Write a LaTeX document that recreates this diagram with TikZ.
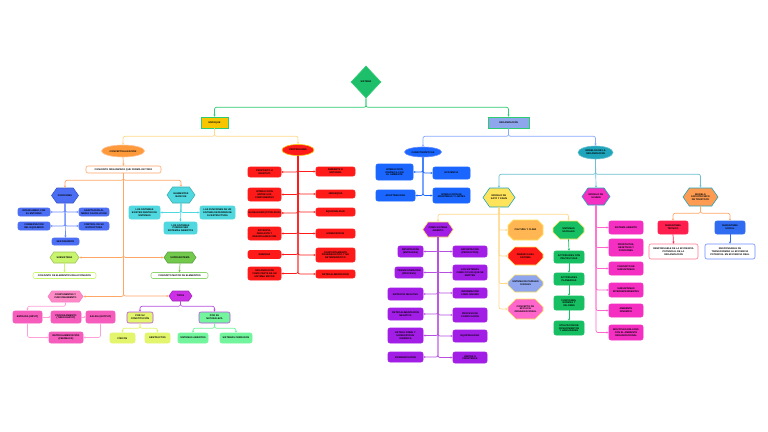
\documentclass[tikz,border=0pt]{standalone}
\usepackage{fontspec}
\setmainfont{Liberation Sans}
\usetikzlibrary{arrows.meta, shapes.geometric, shapes.symbols, shapes.misc}
\definecolor{sisgreen}{HTML}{1DBF6B}
\definecolor{lnkgreen}{HTML}{2ECC71}
\definecolor{enfyel}{HTML}{F7C600}
\definecolor{orglav}{HTML}{8EA6EC}
\definecolor{lnkyel}{HTML}{FFD98A}
\definecolor{lnklav}{HTML}{8AA8FF}
\definecolor{conor}{HTML}{FF9A3C}
\definecolor{lnkor}{HTML}{FFA766}
\definecolor{funblue}{HTML}{4C6EF5}
\definecolor{lnkblue}{HTML}{6A8CFF}
\definecolor{elcyan}{HTML}{4FD8DF}
\definecolor{subgreen}{HTML}{C9F56E}
\definecolor{supgreen}{HTML}{72C94C}
\definecolor{elpink}{HTML}{FF8AC6}
\definecolor{inpink}{HTML}{F55CBC}
\definecolor{lnkpink}{HTML}{FFA0D8}
\definecolor{tippur}{HTML}{CC2FE6}
\definecolor{lnkpur}{HTML}{B84FE0}
\definecolor{limeyel}{HTML}{E2F56C}
\definecolor{mint}{HTML}{72F59C}
\definecolor{propred}{HTML}{FF1A1A}
\definecolor{carblue}{HTML}{1A66FF}
\definecolor{modteal}{HTML}{1EA4BB}
\definecolor{lnkteal}{HTML}{6CC0D0}
\definecolor{katyel}{HTML}{FFE35A}
\definecolor{kpur}{HTML}{A21EE6}
\definecolor{octor}{HTML}{FFB653}
\definecolor{octlav}{HTML}{8FA6EF}
\definecolor{octpink}{HTML}{FF66CC}
\definecolor{socgreen}{HTML}{16C062}
\definecolor{schpink}{HTML}{F52FC1}
\definecolor{tavor}{HTML}{FF9C52}
\definecolor{tecred}{HTML}{FF1F4F}
\definecolor{socblue}{HTML}{2F6CF2}
\tikzset{
  base/.style={font=\bfseries\fontsize{2.4}{2.8}\selectfont, align=center, inner sep=0.5pt, text=black, line width=0.6pt},
  wh/.style 2 args={minimum width=#1pt, minimum height=#2pt},
  rbox/.style 2 args={base, rectangle, rounded corners=2pt, fill=#1, draw=#2},
  hexa/.style 2 args={base, signal, signal to=east and west, signal pointer angle=110, fill=#1, draw=#2},
  octa/.style 2 args={base, chamfered rectangle, chamfered rectangle xsep=4pt, chamfered rectangle ysep=4pt, fill=#1, draw=#2},
  oval/.style 2 args={base, ellipse, fill=#1, draw=#2},
  conn/.style={draw=#1, line width=0.7pt, rounded corners=2pt, -{Stealth[length=2.2pt,width=2.2pt]}}
}

\begin{document}
\begin{tikzpicture}[x=1pt, y=-1pt]
\fill[white] (0,0) rectangle (768,431);
\useasboundingbox (0,0) rectangle (768,431);

% root
\node[base, diamond, fill=sisgreen, draw=lnkgreen, minimum width=30pt, minimum height=32pt, inner sep=0pt] (sis) at (366,82) {SISTEMA};
\node[base, rectangle, fill=enfyel, draw=lnkgreen, wh={27}{11}] (enf) at (214.5,122.5) {ENFOQUE};
\node[base, rectangle, fill=orglav, draw=lnkgreen, wh={41}{11}] (org) at (508.5,122.5) {ORGANIZACIÓN};
\draw[conn=lnkgreen] (sis.south) -- ++(0,9) -| (enf.north);
\draw[conn=lnkgreen] (sis.south) -- ++(0,9) -| (org.north);

% enfoque: conceptualizacion
\node[oval={conor}{lnkor!70}, wh={43}{12}] (con) at (123,151) {CONCEPTUALIZACIÓN};
\node[rbox={white}{lnkor}, wh={75}{7}] (cdef) at (123.5,169.5) {CONJUNTO ORGANIZADO QUE FORMA UN TODO};
\node[hexa={funblue}{funblue!80!black}, wh={27}{15}] (fun) at (65,195.5) {FUNCIONES};
\node[rbox={funblue}{funblue}, wh={32}{8}] (f1) at (34,212) {INTERCAMBIO CON\\EL ENTORNO};
\node[rbox={funblue}{funblue}, wh={30}{8}] (f2) at (94,212) {ADAPTACIÓN AL\\MEDIO O EVOLUCIÓN};
\node[rbox={funblue}{funblue}, wh={32}{8}] (f3) at (34,226) {CONSERVACIÓN\\DEL EQUILIBRIO};
\node[rbox={funblue}{funblue}, wh={30}{8}] (f4) at (94,226) {CONTROL DE SU\\ESTRUCTURA};
\node[rbox={funblue}{funblue}, wh={27}{7}] (f5) at (65.5,241.5) {SER DINÁMICO};
\node[hexa={elcyan}{elcyan!80!black}, wh={28}{16}] (elb) at (181,195) {ELEMENTOS\\BÁSICOS};
\node[rbox={elcyan}{elcyan}, wh={31}{13}] (e1) at (144.5,212.5) {LOS SISTEMAS\\EXISTEN DENTRO DE\\SISTEMAS};
\node[rbox={elcyan}{elcyan}, wh={35}{13}] (e2) at (217.5,212.5) {LAS FUNCIONES DE UN\\SISTEMA DEPENDEN DE\\SU ESTRUCTURA};
\node[rbox={elcyan}{elcyan}, wh={33}{12}] (e3) at (180.5,228) {LOS SISTEMAS\\PUEDEN SER\\SISTEMAS ABIERTOS};
\node[hexa={subgreen}{subgreen!80!black}, wh={29}{11}] (sub) at (64.5,257.5) {SUBSISTEMA};
\node[rbox={white}{subgreen}, wh={63}{6}] (subd) at (64.5,275.5) {CONJUNTO DE ELEMENTOS RELACIONADOS};
\node[hexa={supgreen}{supgreen!80!black}, wh={32}{11}] (sup) at (180,257.5) {SUPRASISTEMA};
\node[rbox={white}{supgreen!80}, wh={57}{6}] (supd) at (179.5,275.5) {CONJUNTO MAYOR DE ELEMENTOS};
\node[hexa={elpink}{inpink!80}, wh={35}{11}] (ele) at (65.5,296.5) {COMPONENTES Y\\FUNCIONAMIENTO};
\node[rbox={inpink}{inpink}, wh={29}{12}] (in) at (27.5,317) {ENTRADA (INPUT)};
\node[rbox={inpink}{inpink}, wh={30}{12}] (pro) at (66,317) {PROCESAMIENTO\\(THROUGHPUT)};
\node[rbox={inpink}{inpink}, wh={29}{12}] (sal) at (100.5,317) {SALIDA (OUTPUT)};
\node[rbox={inpink}{inpink}, wh={34}{11}] (ret) at (66,337.5) {RETROALIMENTACIÓN\\(FEEDBACK)};
\node[hexa={tippur}{tippur!80!black}, wh={23}{10}] (tip) at (180.5,296) {TIPOS};
\node[rbox={limeyel}{lnkpur}, wh={26}{11}] (cons) at (140,317.5) {POR SU\\CONSTITUCIÓN};
\node[rbox={mint}{lnkpur}, wh={31}{11}] (nat) at (214.5,317.5) {POR SU\\NATURALEZA};
\node[rbox={limeyel}{limeyel}, wh={25}{10}] (fis) at (122.5,338) {FÍSICOS};
\node[rbox={limeyel}{limeyel}, wh={25}{10}] (abs) at (157.5,338) {ABSTRACTOS};
\node[rbox={mint}{mint}, wh={30}{10}] (abi) at (193,338) {SISTEMAS ABIERTOS};
\node[rbox={mint}{mint}, wh={32}{10}] (cer) at (236,338) {SISTEMAS CERRADOS};

\draw[conn=lnkyel] (enf.south) -- ++(0,8) -| (con.north);
\draw[conn=lnkor] (con.south) -- (cdef.north);
\draw[conn=lnkor] (cdef.south) -- ++(0,7) -| (fun.north);
\draw[conn=lnkor] (cdef.south) -- ++(0,7) -| (elb.north);
\draw[conn=lnkor] (cdef.south) |- (sub.east);
\draw[conn=lnkor] (cdef.south) |- (sup.west);
\draw[conn=lnkor] (cdef.south) |- (ele.east);
\draw[conn=lnkor] (cdef.south) |- (tip.west);
\draw[conn=lnkblue] (fun.south) -- (f5.north);
\foreach \n in {f1,f3} \draw[conn=lnkblue] (fun.south) |- (\n.east);
\foreach \n in {f2,f4} \draw[conn=lnkblue] (fun.south) |- (\n.west);
\draw[conn=elcyan] (elb.south) -- (e3.north);
\draw[conn=elcyan] (elb.south) |- (e1.east);
\draw[conn=elcyan] (elb.south) |- (e2.west);
\draw[conn=subgreen] (sub.south) -- (subd.north);
\draw[conn=supgreen] (sup.south) -- (supd.north);
\draw[conn=lnkpink] (ele.south) -- ++(0,4) -| (in.north);
\draw[conn=lnkpink] (in.east) -- (pro.west);
\draw[conn=lnkpink] (pro.east) -- (sal.west);
\draw[conn=lnkpink] (in.south) |- (ret.west);
\draw[conn=lnkpink] (sal.south) |- (ret.east);
\draw[conn=lnkpur] (tip.south) -- ++(0,5) -| (cons.north);
\draw[conn=lnkpur] (tip.south) -- ++(0,5) -| (nat.north);
\draw[conn=limeyel] (cons.south) -- ++(0,5) -| (fis.north);
\draw[conn=limeyel] (cons.south) -- ++(0,5) -| (abs.north);
\draw[conn=mint] (nat.south) -- ++(0,5) -| (abi.north);
\draw[conn=mint] (nat.south) -- ++(0,5) -| (cer.north);

% enfoque: propiedades
\node[oval={propred}{enfyel}, wh={32}{11}] (prop) at (298,150) {PROPIEDADES};
\node[rbox={propred}{propred}, wh={33}{10}] (r1) at (264.5,172) {PROPÓSITO U\\OBJETIVO};
\node[rbox={propred}{propred}, wh={33}{13}] (r2) at (264.5,194.5) {INTERACCIÓN\\ENTRE SUS\\COMPONENTES};
\node[rbox={propred}{propred}, wh={33}{8}] (r3) at (264.5,213) {GLOBALISMO (TOTALIDAD)};
\node[rbox={propred}{propred}, wh={33}{13}] (r4) at (264.5,233.5) {ENTROPÍA,\\DESGASTE Y\\DESORGANIZACIÓN};
\node[rbox={propred}{propred}, wh={33}{8}] (r5) at (264.5,254.5) {SINERGIA};
\node[rbox={propred}{propred}, wh={33}{13}] (r6) at (264.5,273.5) {ORGANIZACIÓN\\COMO PARTE DE UN\\SISTEMA MAYOR};
\node[rbox={propred}{propred}, wh={39}{9}] (s1) at (335.5,171.5) {AMBIENTE O\\ENTORNO};
\node[rbox={propred}{propred}, wh={39}{8}] (s2) at (335.5,194) {JERARQUÍA};
\node[rbox={propred}{propred}, wh={39}{8}] (s3) at (335.5,212) {EQUIFINALIDAD};
\node[rbox={propred}{propred}, wh={39}{9}] (s4) at (335.5,233.5) {HOMEOSTASIS};
\node[rbox={propred}{propred}, wh={39}{14}] (s5) at (335.5,255) {COMPORTAMIENTO\\PROBABILÍSTICO Y NO\\DETERMINÍSTICO};
\node[rbox={propred}{propred}, wh={39}{8}] (s6) at (335.5,274) {RETROALIMENTACIÓN};
\draw[conn=lnkyel] (enf.south) -- ++(0,8) -| (prop.north);
\foreach \n in {r1,r2,r3,r4,r5,r6} \draw[conn=propred] (prop.south) |- (\n.east);
\foreach \n in {s1,s2,s3,s4,s5,s6} \draw[conn=propred] (prop.south) |- (\n.west);

% organizacion: caracteristicas
\node[oval={carblue}{lnkblue}, wh={37}{10}] (car) at (423,152) {CARACTERÍSTICAS};
\node[rbox={carblue}{carblue}, wh={37}{16}] (b1) at (394.5,172) {INTERACCIÓN\\DINÁMICA CON\\EL AMBIENTE};
\node[rbox={carblue}{carblue}, wh={37}{12}] (b2) at (451.5,173) {EFICIENCIA};
\node[rbox={carblue}{carblue}, wh={39}{11}] (b3) at (395.5,195.5) {ADAPTABILIDAD};
\node[rbox={carblue}{carblue}, wh={37}{15}] (b4) at (451.5,195.5) {INTERACCIÓN DE\\FRONTERAS Y LÍMITES};
\draw[conn=lnklav] (org.south) -- ++(0,8) -| (car.north);
\foreach \n in {b1,b3} \draw[conn=carblue] (car.south) |- (\n.east);
\foreach \n in {b2,b4} \draw[conn=carblue] (car.south) |- (\n.west);

% organizacion: modelos
\node[oval={modteal}{lnkteal}, wh={35}{13}] (mod) at (595.5,152.5) {MODELOS DE LA\\ORGANIZACIÓN};
\node[hexa={katyel}{modteal}, wh={32}{19}] (kat) at (499,197.5) {MODELO DE\\KATZ Y KAHN};
\node[hexa={schpink}{modteal}, wh={28}{17}] (sch) at (596,196.5) {MODELO DE\\SCHEIN};
\node[hexa={tavor}{modteal}, wh={35}{18}] (tav) at (700.5,197) {MODELO\\SOCIOTÉCNICO\\DE TAVISTOCK};
\draw[conn=lnklav] (org.south) -- ++(0,8) -| (mod.north);
\draw[conn=lnkteal] (mod.south) -- ++(0,15) -| (kat.north);
\draw[conn=lnkteal] (mod.south) -- (sch.north);
\draw[conn=lnkteal] (mod.south) -- ++(0,15) -| (tav.north);

% katz y kahn
\node[hexa={kpur}{katyel}, wh={30}{15}] (pk) at (438,229.5) {COMO SISTEMA\\ABIERTO};
\node[rbox={kpur}{kpur}, wh={25}{11}] (k1) at (410.5,251.5) {IMPORTACIÓN\\(ENTRADAS)};
\node[rbox={kpur}{kpur}, wh={28}{11}] (k2) at (409,272.5) {TRANSFORMACIÓN\\(PROCESO)};
\node[rbox={kpur}{kpur}, wh={35}{12}] (k3) at (405.5,294) {ENTROPÍA NEGATIVA};
\node[rbox={kpur}{kpur}, wh={35}{12}] (k4) at (405.5,314) {RETROALIMENTACIÓN\\NEGATIVA};
\node[rbox={kpur}{kpur}, wh={35}{15}] (k5) at (405.5,335.5) {ESTADO FIRME Y\\HOMEOSTASIS\\DINÁMICA};
\node[rbox={kpur}{kpur}, wh={35}{10}] (k6) at (405.5,357) {DIFERENCIACIÓN};
\node[rbox={kpur}{kpur}, wh={34}{11}] (m1) at (470,251.5) {EXPORTACIÓN\\(PRODUCTOS)};
\node[rbox={kpur}{kpur}, wh={34}{15}] (m2) at (470,272.5) {LOS SISTEMAS\\COMO CICLOS QUE SE\\REPITEN};
\node[rbox={kpur}{kpur}, wh={34}{10}] (m3) at (470,293) {INFORMACIÓN\\COMO INSUMO};
\node[rbox={kpur}{kpur}, wh={34}{14}] (m4) at (470,315) {PROCESO DE\\CODIFICACIÓN};
\node[rbox={kpur}{kpur}, wh={34}{12}] (m5) at (470,336) {EQUIFINALIDAD};
\node[rbox={kpur}{kpur}, wh={34}{11}] (m6) at (470,357.5) {LÍMITES O\\FRONTERAS};
\node[octa={octor}{katyel}, wh={35}{20}] (o1) at (525.5,230) {CULTURA Y CLIMA};
\node[octa={propred}{katyel}, wh={35}{18}] (o2) at (525.5,256) {DINÁMICA DEL\\SISTEMA};
\node[octa={octlav}{katyel}, wh={35}{17}] (o3) at (525.5,283.5) {SISTEMA DE PAPELES\\O ROLES};
\node[octa={octpink}{katyel}, wh={35}{20}] (o4) at (525.5,309) {CONCEPTO DE\\EFICACIA\\ORGANIZACIONAL};
\node[octa={socgreen}{katyel}, wh={31}{18}] (g0) at (568.5,230) {SISTEMAS\\SOCIALES};
\node[rbox={socgreen}{socgreen}, wh={30}{12}] (g1) at (569,257) {ACTIVIDADES CON\\PAUTAS FIJAS};
\node[rbox={socgreen}{socgreen}, wh={30}{12}] (g2) at (569,279) {ACTIVIDADES\\PLANEADAS};
\node[rbox={socgreen}{socgreen}, wh={30}{14}] (g3) at (569,303) {FUNCIONES,\\NORMAS Y\\VALORES};
\node[rbox={socgreen}{socgreen}, wh={30}{14}] (g4) at (569,328) {UTILIZACIÓN DE\\CONOCIMIENTOS\\Y HABILIDADES};
\draw[conn=lnkyel] (kat.south) -- ++(0,7) -| (pk.north);
\draw[conn=lnkyel] (kat.south) -- ++(0,7) -| (g0.north);
\foreach \n in {o1,o2,o3,o4} \draw[conn=lnkyel] (kat.south) |- (\n.west);
\foreach \n in {k1,k2,k3,k4,k5,k6} \draw[conn=lnkpur] (pk.south) |- (\n.east);
\foreach \n in {m1,m2,m3,m4,m5,m6} \draw[conn=lnkpur] (pk.south) |- (\n.west);
\draw[conn=socgreen] (g0.south) -- (g1.north);
\draw[conn=socgreen] (g1.south) -- (g2.north);
\draw[conn=socgreen] (g2.south) -- (g3.north);
\draw[conn=socgreen] (g3.south) -- (g4.north);

% schein
\node[rbox={schpink}{schpink}, wh={34}{13}] (p1) at (626,227.5) {SISTEMA ABIERTO};
\node[rbox={schpink}{schpink}, wh={34}{17}] (p2) at (626,247.5) {PROPÓSITOS,\\OBJETIVOS Y\\FUNCIONES};
\node[rbox={schpink}{schpink}, wh={34}{13}] (p3) at (626,268.5) {CONJUNTO DE\\SUBSISTEMAS};
\node[rbox={schpink}{schpink}, wh={34}{14}] (p4) at (626,290) {SUBSISTEMAS\\INTERDEPENDIENTES};
\node[rbox={schpink}{schpink}, wh={34}{13}] (p5) at (626,310.5) {AMBIENTE\\DINÁMICO};
\node[rbox={schpink}{schpink}, wh={34}{15}] (p6) at (626,332.5) {MÚLTIPLES ENLACES\\CON EL AMBIENTE\\ORGANIZACIONAL};
\foreach \n in {p1,p2,p3,p4,p5,p6} \draw[conn=octpink] (sch.south) |- (\n.west);

% tavistock
\node[rbox={tecred}{tecred}, wh={30}{13}] (tec) at (673,227.5) {SUBSISTEMA\\TÉCNICO};
\node[rbox={socblue}{socblue}, wh={30}{13}] (soc) at (730,227.5) {SUBSISTEMA\\SOCIAL};
\node[rbox={white}{tecred!60}, wh={49}{15}] (tecd) at (673.5,251.5) {RESPONSABLE DE LA EFICIENCIA\\POTENCIAL DE LA\\ORGANIZACIÓN};
\node[rbox={white}{lnkblue}, wh={50}{15}] (socd) at (730,251.5) {RESPONSABLE DE\\TRANSFORMAR LA EFICIENCIA\\POTENCIAL EN EFICIENCIA REAL};
\draw[conn=lnkor] (tav.south) -- ++(0,7) -| (tec.north);
\draw[conn=lnkor] (tav.south) -- ++(0,7) -| (soc.north);
\draw[conn=tecred] (tec.south) -- (tecd.north);
\draw[conn=socblue] (soc.south) -- (socd.north);
\end{tikzpicture}
\end{document}
